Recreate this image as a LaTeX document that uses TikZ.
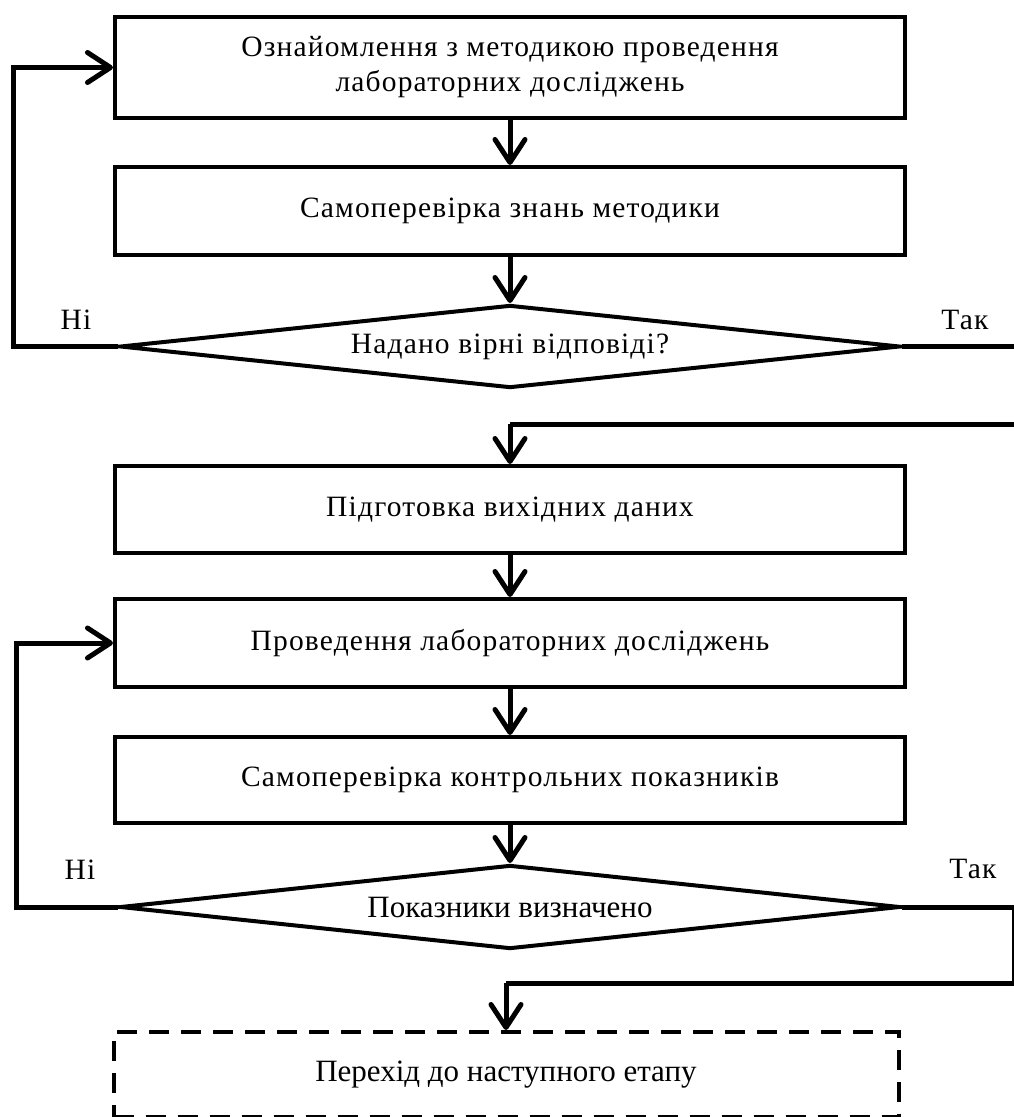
\documentclass[tikz,border=0pt]{standalone}
\usepackage{fontspec}
\setmainfont{Liberation Serif}
\newfontfamily\spfont[LetterSpace=4]{Liberation Serif}
\usetikzlibrary{shapes.geometric,arrows.meta}
\tikzset{
  txt/.style={font=\spfont\fontsize{29.5}{35}\selectfont},
  box/.style={draw,line width=4pt,minimum width=790pt,inner sep=0pt,align=center,txt},
  dec/.style={draw,diamond,line width=4pt,aspect=9.4,inner sep=0pt,minimum width=780pt,txt},
  big/.style={font=\rmfamily\fontsize{31}{35}\selectfont},
  conn/.style={line width=5pt,-{Straight Barb[length=23pt,width=30pt,round]}},
  plain/.style={line width=5pt,line join=miter},
  lbl/.style={inner sep=0pt,txt},
}
\begin{document}
\begin{tikzpicture}[x=1pt,y=-1pt]
\useasboundingbox[fill=white] (0,0) rectangle (1013,1117);

\node[box,minimum height=101pt] (b1) at (510,67.5) {Ознайомлення з методикою проведення\\лабораторних досліджень};
\node[box,minimum height=88pt] (b2) at (510,211) {Самоперевірка знань методики};
\node[dec,minimum height=83pt] (d1) at (510,346.5) {Надано вірні відповіді?};
\node[box,minimum height=87pt] (b3) at (510,509.5) {Підготовка вихідних даних};
\node[box,minimum height=88pt] (b4) at (510,643) {Проведення лабораторних досліджень};
\node[box,minimum height=86pt] (b5) at (510,780) {Самоперевірка контрольних показників};
\node[dec,minimum height=84pt,big] (d2) at (510,907) {Показники визначено};
\node[box,dashed,dash pattern=on 20pt off 12pt,minimum width=785pt,minimum height=85pt,big] (b7) at (506,1074.5) {Перехід до наступного етапу};

\node[lbl] (n1) at (76,320) {Ні};
\node[lbl] (t1) at (965,320) {Так};
\node[lbl] (n2) at (80,870) {Ні};
\node[lbl] (t2) at (973,869) {Так};

\coordinate (l1a) at (13,346.5);
\coordinate (l1b) at (13,67.5);
\coordinate (r1a) at (1016,346.5);
\coordinate (r1b) at (1016,424);
\coordinate (r1c) at (510,424);
\coordinate (l2a) at (16,907);
\coordinate (l2b) at (16,643);
\coordinate (r2a) at (1014.5,907);
\coordinate (r2b) at (1014.5,983);
\coordinate (r2c) at (506,983);

\draw[conn] (b1) -- (b2);
\draw[conn] (b2) -- (d1);
\draw[conn] (d1.west) -- (l1a) -- (l1b) -- (b1.west);
\draw[plain] (d1.east) -- (r1a) -- (r1b) -- (r1c);
\draw[conn] (r1c) -- (b3.north);
\draw[conn] (b3) -- (b4);
\draw[conn] (b4) -- (b5);
\draw[conn] (b5) -- (d2);
\draw[conn] (d2.west) -- (l2a) -- (l2b) -- (b4.west);
\draw[plain] (d2.east) -- (r2a) -- (r2b) -- (r2c);
\draw[conn] (r2c) -- (b7.north);
\end{tikzpicture}
\end{document}
